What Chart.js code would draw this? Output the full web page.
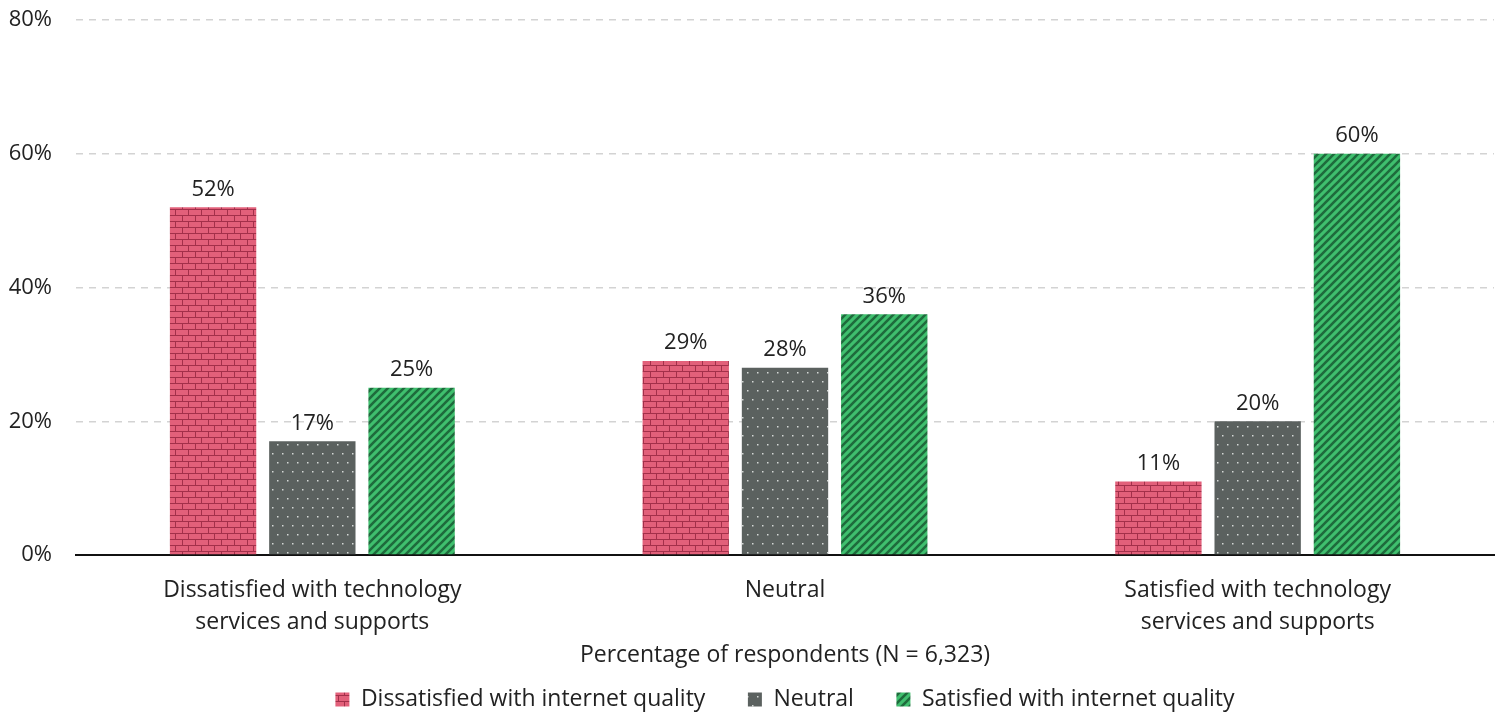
<!DOCTYPE html>
<html>
<head>
<meta charset="utf-8">
<script src="https://cdn.jsdelivr.net/npm/chart.js@4.4.1/dist/chart.umd.min.js"></script>
<style>
  html, body { margin: 0; padding: 0; background: #fff; }
  #wrap { width: 1501px; height: 717px; position: relative; }
</style>
</head>
<body>
<div id="wrap"><canvas id="chart"></canvas></div>
<script>
// Survey groups (technology services satisfaction) on the x axis
const categories = [
  ['Dissatisfied with technology', 'services and supports'],
  'Neutral',
  ['Satisfied with technology', 'services and supports']
];
// Internet quality satisfaction series, percent of respondents
const seriesNames = [
  'Dissatisfied with internet quality',
  'Neutral',
  'Satisfied with internet quality'
];
const dissatisfiedInternet = [52, 29, 11];
const neutralInternet = [17, 28, 20];
const satisfiedInternet = [25, 36, 60];
const yTicks = [0, 20, 40, 60, 80];

const FONT = '"Open Sans", Roboto, sans-serif';
const TEXT = '#222222';

// --- fill patterns ---
function makeTile(w, h, draw) {
  const c = document.createElement('canvas');
  c.width = w; c.height = h;
  const g = c.getContext('2d');
  draw(g, w, h);
  return document.createElement('canvas').getContext('2d').createPattern(c, 'repeat');
}

// brick wall: pink bricks with dark red mortar
const brickPattern = makeTile(13, 12, (g, w, h) => {
  g.fillStyle = '#e2607a';
  g.fillRect(0, 0, w, h);
  g.fillStyle = '#a3304a';
  g.fillRect(0, 5, w, 1);
  g.fillRect(0, 11, w, 1);
  g.fillRect(0, 0, 1, 5);
  g.fillRect(6, 6, 1, 5);
});

// staggered white dots on dark gray
const dotPattern = makeTile(10, 18, (g, w, h) => {
  g.fillStyle = '#5b615f';
  g.fillRect(0, 0, w, h);
  g.fillStyle = '#d4d7d5';
  g.fillRect(2, 3, 1.5, 1.5);
  g.fillRect(7, 12, 1.5, 1.5);
});

// green with dark "/" stripes
const stripePattern = makeTile(8, 8, (g, w, h) => {
  g.fillStyle = '#3fbf6e';
  g.fillRect(0, 0, w, h);
  g.strokeStyle = '#1e6b3c';
  g.lineWidth = 2.6;
  g.beginPath();
  for (let k = -2; k <= 2; k++) {
    g.moveTo(k * w - 1, h + 1);
    g.lineTo(k * w + w + 1, -1);
  }
  g.stroke();
});

// value labels above each bar
const valueLabels = {
  id: 'valueLabels',
  afterDatasetsDraw(chart) {
    const ctx = chart.ctx;
    ctx.save();
    ctx.font = '22px ' + FONT;
    ctx.fillStyle = TEXT;
    ctx.textAlign = 'center';
    ctx.textBaseline = 'middle';
    chart.data.datasets.forEach((ds, i) => {
      chart.getDatasetMeta(i).data.forEach((bar, j) => {
        ctx.fillText(ds.data[j] + '%', bar.x, bar.y - 18);
      });
    });
    ctx.restore();
  }
};

// wider gaps between legend entries
const legendGap = '\u2002\u2002\u2002';

new Chart(document.getElementById('chart'), {
  type: 'bar',
  data: {
    labels: categories,
    datasets: [
      { label: seriesNames[0], data: dissatisfiedInternet, backgroundColor: brickPattern },
      { label: seriesNames[1], data: neutralInternet, backgroundColor: dotPattern },
      { label: seriesNames[2], data: satisfiedInternet, backgroundColor: stripePattern }
    ]
  },
  options: {
    responsive: true,
    maintainAspectRatio: false,
    animation: false,
    categoryPercentage: 0.63,
    barPercentage: 0.87,
    layout: { padding: { left: 8, right: 7, top: 20, bottom: -4 } },
    plugins: {
      tooltip: { enabled: false },
      legend: {
        position: 'bottom',
        fullSize: false,
        labels: {
          boxWidth: 14,
          boxHeight: 14,
          padding: 8,
          color: TEXT,
          font: { family: FONT, size: 23 },
          generateLabels(chart) {
            const items = Chart.defaults.plugins.legend.labels.generateLabels(chart);
            items.forEach((it, i) => {
              it.lineWidth = 0;
              if (i < items.length - 1) it.text += legendGap;
            });
            return items;
          }
        }
      }
    },
    scales: {
      x: {
        afterFit(scale) { scale.height = 125; },
        grid: { display: false },
        border: { display: true, color: '#111', width: 2 },
        ticks: {
          color: TEXT,
          padding: 11,
          font: { family: FONT, size: 23, lineHeight: 32 / 23 },
          maxRotation: 0
        },
        title: {
          display: true,
          text: 'Percentage of respondents (N = 6,323)',
          color: TEXT,
          font: { family: FONT, size: 23 },
          padding: { top: 6, bottom: 11 }
        }
      },
      y: {
        min: 0,
        max: 80,
        afterFit(scale) {
          scale.width = 68;
          scale.paddingTop = 0;
          scale.paddingBottom = 0;
        },
        afterBuildTicks(scale) { scale.ticks = yTicks.map(v => ({ value: v })); },
        grid: { color: '#d3d3d3', lineWidth: 1.5, drawTicks: false },
        border: { display: false, dash: [7, 6] },
        ticks: {
          color: TEXT,
          padding: 24,
          font: { family: FONT, size: 22 },
          callback: v => v + '%'
        }
      }
    }
  },
  plugins: [valueLabels]
});
</script>
</body>
</html>
